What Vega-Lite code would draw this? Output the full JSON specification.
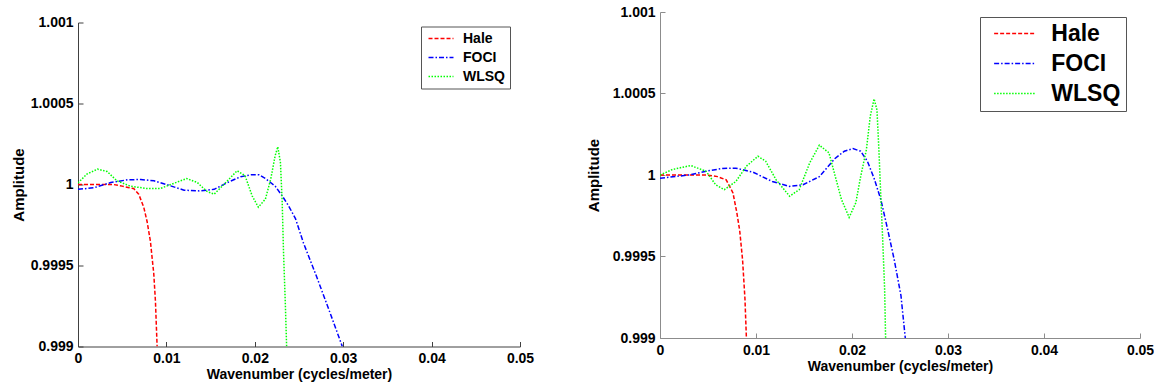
{
  "$schema": "https://vega.github.io/schema/vega-lite/v6.json",
  "background": "white",
  "padding": {"left": 11, "top": 5, "right": 0, "bottom": 0},
  "spacing": 52,
  "config": {
    "view": {"stroke": null},
    "axis": {
      "grid": false,
      "labelFont": "Liberation Sans", "labelFontWeight": "bold", "labelFontSize": 14, "labelColor": "#000000",
      "titleFont": "Liberation Sans", "titleFontWeight": "bold", "titleFontSize": 14, "titleColor": "#000000",
      "tickSize": -5, "labelPadding": 10, "labelFlush": false, "labelOverlap": false
    },
    "legend": {
      "orient": "none", "title": null,
      "labelFont": "Liberation Sans", "labelFontWeight": "bold", "labelColor": "#000000",
      "strokeColor": "#555555", "fillColor": "#ffffff", "cornerRadius": 0
    }
  },
  "resolve": {
    "scale": {"color": "independent", "strokeDash": "independent"},
    "legend": {"color": "independent", "strokeDash": "independent"}
  },
  "datasets": {
    "spacer": [{"s": 0}],
    "left": [
      {"k": 0, "amp": 1.0, "method": "Hale"},
      {"k": 0.002, "amp": 1.0, "method": "Hale"},
      {"k": 0.004, "amp": 1.0, "method": "Hale"},
      {"k": 0.005, "amp": 0.99999, "method": "Hale"},
      {"k": 0.0058, "amp": 0.99998, "method": "Hale"},
      {"k": 0.0063, "amp": 0.999975, "method": "Hale"},
      {"k": 0.00687, "amp": 0.99994, "method": "Hale"},
      {"k": 0.00744, "amp": 0.99986, "method": "Hale"},
      {"k": 0.00782, "amp": 0.99977, "method": "Hale"},
      {"k": 0.00819, "amp": 0.99965, "method": "Hale"},
      {"k": 0.00857, "amp": 0.99945, "method": "Hale"},
      {"k": 0.00876, "amp": 0.99928, "method": "Hale"},
      {"k": 0.00895, "amp": 0.999, "method": "Hale"},

      {"k": 0, "amp": 0.99997, "method": "FOCI"},
      {"k": 0.0018, "amp": 0.99998, "method": "FOCI"},
      {"k": 0.0037, "amp": 1.000012, "method": "FOCI"},
      {"k": 0.0056, "amp": 1.000029, "method": "FOCI"},
      {"k": 0.0071, "amp": 1.000031, "method": "FOCI"},
      {"k": 0.0086, "amp": 1.000023, "method": "FOCI"},
      {"k": 0.0101, "amp": 0.999998, "method": "FOCI"},
      {"k": 0.012, "amp": 0.999965, "method": "FOCI"},
      {"k": 0.0138, "amp": 0.99996, "method": "FOCI"},
      {"k": 0.0154, "amp": 0.99997, "method": "FOCI"},
      {"k": 0.0169, "amp": 1.000012, "method": "FOCI"},
      {"k": 0.0184, "amp": 1.000048, "method": "FOCI"},
      {"k": 0.0196, "amp": 1.00006, "method": "FOCI"},
      {"k": 0.0205, "amp": 1.00006, "method": "FOCI"},
      {"k": 0.0212, "amp": 1.000037, "method": "FOCI"},
      {"k": 0.0223, "amp": 0.99999, "method": "FOCI"},
      {"k": 0.0231, "amp": 0.99993, "method": "FOCI"},
      {"k": 0.0238, "amp": 0.99987, "method": "FOCI"},
      {"k": 0.0246, "amp": 0.99979, "method": "FOCI"},
      {"k": 0.0255, "amp": 0.99964, "method": "FOCI"},
      {"k": 0.027, "amp": 0.99943, "method": "FOCI"},
      {"k": 0.0285, "amp": 0.99921, "method": "FOCI"},
      {"k": 0.0299, "amp": 0.999, "method": "FOCI"},

      {"k": 0, "amp": 1.00001, "method": "WLSQ"},
      {"k": 0.001, "amp": 1.000064, "method": "WLSQ"},
      {"k": 0.0022, "amp": 1.000095, "method": "WLSQ"},
      {"k": 0.0033, "amp": 1.00008, "method": "WLSQ"},
      {"k": 0.0044, "amp": 1.000023, "method": "WLSQ"},
      {"k": 0.0059, "amp": 0.99999, "method": "WLSQ"},
      {"k": 0.0078, "amp": 0.999975, "method": "WLSQ"},
      {"k": 0.0093, "amp": 0.999975, "method": "WLSQ"},
      {"k": 0.0105, "amp": 1.0, "method": "WLSQ"},
      {"k": 0.0123, "amp": 1.000037, "method": "WLSQ"},
      {"k": 0.0135, "amp": 1.000012, "method": "WLSQ"},
      {"k": 0.0146, "amp": 0.999957, "method": "WLSQ"},
      {"k": 0.0154, "amp": 0.99994, "method": "WLSQ"},
      {"k": 0.0165, "amp": 1.0, "method": "WLSQ"},
      {"k": 0.018, "amp": 1.000085, "method": "WLSQ"},
      {"k": 0.0189, "amp": 1.000054, "method": "WLSQ"},
      {"k": 0.0197, "amp": 0.99993, "method": "WLSQ"},
      {"k": 0.0204, "amp": 0.99986, "method": "WLSQ"},
      {"k": 0.0212, "amp": 0.99991, "method": "WLSQ"},
      {"k": 0.0218, "amp": 1.000033, "method": "WLSQ"},
      {"k": 0.0223, "amp": 1.000177, "method": "WLSQ"},
      {"k": 0.0226, "amp": 1.000233, "method": "WLSQ"},
      {"k": 0.0229, "amp": 1.000136, "method": "WLSQ"},
      {"k": 0.0231, "amp": 0.99989, "method": "WLSQ"},
      {"k": 0.02325, "amp": 0.99958, "method": "WLSQ"},
      {"k": 0.02345, "amp": 0.99927, "method": "WLSQ"},
      {"k": 0.0236, "amp": 0.999, "method": "WLSQ"}
    ],
    "right": [
      {"k": 0, "amp": 1.0, "method": "Hale"},
      {"k": 0.002, "amp": 1.0, "method": "Hale"},
      {"k": 0.0048, "amp": 1.0, "method": "Hale"},
      {"k": 0.006, "amp": 0.99999, "method": "Hale"},
      {"k": 0.0069, "amp": 0.99997, "method": "Hale"},
      {"k": 0.0076, "amp": 0.99989, "method": "Hale"},
      {"k": 0.0080, "amp": 0.99977, "method": "Hale"},
      {"k": 0.0083, "amp": 0.99966, "method": "Hale"},
      {"k": 0.0086, "amp": 0.99948, "method": "Hale"},
      {"k": 0.00885, "amp": 0.99924, "method": "Hale"},
      {"k": 0.009, "amp": 0.999, "method": "Hale"},

      {"k": 0, "amp": 0.99998, "method": "FOCI"},
      {"k": 0.003, "amp": 1.0, "method": "FOCI"},
      {"k": 0.0048, "amp": 1.000023, "method": "FOCI"},
      {"k": 0.0065, "amp": 1.00004, "method": "FOCI"},
      {"k": 0.0079, "amp": 1.000042, "method": "FOCI"},
      {"k": 0.0097, "amp": 1.000017, "method": "FOCI"},
      {"k": 0.0117, "amp": 0.99996, "method": "FOCI"},
      {"k": 0.0135, "amp": 0.99993, "method": "FOCI"},
      {"k": 0.0149, "amp": 0.99994, "method": "FOCI"},
      {"k": 0.0166, "amp": 0.99999, "method": "FOCI"},
      {"k": 0.0182, "amp": 1.0001, "method": "FOCI"},
      {"k": 0.0192, "amp": 1.000146, "method": "FOCI"},
      {"k": 0.0201, "amp": 1.000162, "method": "FOCI"},
      {"k": 0.0209, "amp": 1.000146, "method": "FOCI"},
      {"k": 0.0216, "amp": 1.000085, "method": "FOCI"},
      {"k": 0.0223, "amp": 0.99998, "method": "FOCI"},
      {"k": 0.0230, "amp": 0.99985, "method": "FOCI"},
      {"k": 0.0237, "amp": 0.99967, "method": "FOCI"},
      {"k": 0.0244, "amp": 0.99948, "method": "FOCI"},
      {"k": 0.0251, "amp": 0.99926, "method": "FOCI"},
      {"k": 0.02555, "amp": 0.999, "method": "FOCI"},

      {"k": 0, "amp": 1.0, "method": "WLSQ"},
      {"k": 0.0013, "amp": 1.000034, "method": "WLSQ"},
      {"k": 0.0032, "amp": 1.000058, "method": "WLSQ"},
      {"k": 0.0048, "amp": 1.000023, "method": "WLSQ"},
      {"k": 0.0058, "amp": 0.99994, "method": "WLSQ"},
      {"k": 0.0067, "amp": 0.99991, "method": "WLSQ"},
      {"k": 0.0079, "amp": 0.99996, "method": "WLSQ"},
      {"k": 0.009, "amp": 1.000054, "method": "WLSQ"},
      {"k": 0.0102, "amp": 1.000115, "method": "WLSQ"},
      {"k": 0.011, "amp": 1.000085, "method": "WLSQ"},
      {"k": 0.0121, "amp": 0.99997, "method": "WLSQ"},
      {"k": 0.0135, "amp": 0.99987, "method": "WLSQ"},
      {"k": 0.0145, "amp": 0.99991, "method": "WLSQ"},
      {"k": 0.0156, "amp": 1.000075, "method": "WLSQ"},
      {"k": 0.0166, "amp": 1.000183, "method": "WLSQ"},
      {"k": 0.0176, "amp": 1.000136, "method": "WLSQ"},
      {"k": 0.0189, "amp": 0.99985, "method": "WLSQ"},
      {"k": 0.0197, "amp": 0.99974, "method": "WLSQ"},
      {"k": 0.0204, "amp": 0.99983, "method": "WLSQ"},
      {"k": 0.0209, "amp": 0.99999, "method": "WLSQ"},
      {"k": 0.0215, "amp": 1.000156, "method": "WLSQ"},
      {"k": 0.0219, "amp": 1.00036, "method": "WLSQ"},
      {"k": 0.0223, "amp": 1.000467, "method": "WLSQ"},
      {"k": 0.0226, "amp": 1.0004, "method": "WLSQ"},
      {"k": 0.0228, "amp": 1.000156, "method": "WLSQ"},
      {"k": 0.0230, "amp": 0.99987, "method": "WLSQ"},
      {"k": 0.0232, "amp": 0.9996, "method": "WLSQ"},
      {"k": 0.0234, "amp": 0.9993, "method": "WLSQ"},
      {"k": 0.0235, "amp": 0.999, "method": "WLSQ"}
    ]
  },
  "hconcat": [
    {
      "spacing": -2.5,
      "resolve": {
        "scale": {"color": "independent", "strokeDash": "independent"},
        "legend": {"color": "independent", "strokeDash": "independent"}
      },
      "vconcat": [
        {
          "width": 10,
          "height": 1,
          "data": {"name": "spacer"},
          "mark": {"type": "text", "text": ""},
          "encoding": {}
        },
        {
          "width": 442,
          "height": 324,
          "data": {"name": "left"},
          "mark": {"type": "line", "strokeWidth": 1.5, "clip": true},
          "encoding": {
            "x": {"field": "k", "type": "quantitative", "title": "Wavenumber (cycles/meter)",
                  "scale": {"domain": [0, 0.05], "nice": false, "zero": false},
                  "axis": {"values": [0, 0.01, 0.02, 0.03, 0.04, 0.05], "format": "~g", "domainColor": "#404040", "tickColor": "#404040", "titlePadding": 2}},
            "y": {"field": "amp", "type": "quantitative", "title": "Amplitude",
                  "scale": {"domain": [0.999, 1.001], "nice": false, "zero": false},
                  "axis": {"values": [0.999, 0.9995, 1, 1.0005, 1.001], "format": "~g", "domainColor": "#404040", "tickColor": "#404040", "titlePadding": 3.5, "titleFontSize": 15}},
            "color": {"field": "method", "type": "nominal",
                      "scale": {"domain": ["Hale", "FOCI", "WLSQ"], "range": ["#ff0000", "#0000ff", "#00ff00"]},
                      "legend": {"legendX": 343, "legendY": 4, "padding": 5, "symbolType": "M-2,0H2", "symbolOffset": 8, "symbolSize": 156, "symbolStrokeWidth": 1.3, "labelOffset": 15, "rowPadding": 5, "labelFontSize": 14, "labelExpr": "datum.label + '\u00a0'"}},
            "strokeDash": {"field": "method", "type": "nominal",
                      "scale": {"domain": ["Hale", "FOCI", "WLSQ"], "range": [[4, 2], [5, 2, 1.5, 2], [1.5, 1.5]]},
                      "legend": {"legendX": 343, "legendY": 4, "padding": 5, "symbolType": "M-2,0H2", "symbolOffset": 8, "symbolSize": 156, "symbolStrokeWidth": 1.3, "labelOffset": 15, "rowPadding": 5, "labelFontSize": 14, "labelExpr": "datum.label + '\u00a0'"}}
          }
        }
      ]
    },
    {
      "width": 480,
      "height": 326,
      "data": {"name": "right"},
      "mark": {"type": "line", "strokeWidth": 1.5, "clip": true},
      "encoding": {
        "x": {"field": "k", "type": "quantitative", "title": "Wavenumber (cycles/meter)",
              "scale": {"domain": [0, 0.05], "nice": false, "zero": false},
              "axis": {"values": [0, 0.01, 0.02, 0.03, 0.04, 0.05], "format": "~g", "domainColor": "#8c8c8c", "tickColor": "#8c8c8c", "titlePadding": 2}},
        "y": {"field": "amp", "type": "quantitative", "title": "Amplitude",
              "scale": {"domain": [0.999, 1.001], "nice": false, "zero": false},
              "axis": {"values": [0.999, 0.9995, 1, 1.0005, 1.001], "format": "~g", "domainColor": "#8c8c8c", "tickColor": "#8c8c8c", "titlePadding": 11, "titleFontSize": 15}},
        "color": {"field": "method", "type": "nominal",
                  "scale": {"domain": ["Hale", "FOCI", "WLSQ"], "range": ["#ff0000", "#0000ff", "#00ff00"]},
                  "legend": {"legendX": 320, "legendY": 5, "padding": 5, "symbolType": "M-4,0H4", "symbolOffset": 18.6, "symbolSize": 110, "symbolStrokeWidth": 1.5, "labelOffset": 24.7, "rowPadding": 6, "labelFontSize": 23, "labelExpr": "datum.label + '\u00a0'"}},
        "strokeDash": {"field": "method", "type": "nominal",
                  "scale": {"domain": ["Hale", "FOCI", "WLSQ"], "range": [[4, 2], [5, 2, 1.5, 2], [1.5, 1.5]]},
                  "legend": {"legendX": 320, "legendY": 5, "padding": 5, "symbolType": "M-4,0H4", "symbolOffset": 18.6, "symbolSize": 110, "symbolStrokeWidth": 1.5, "labelOffset": 24.7, "rowPadding": 6, "labelFontSize": 23, "labelExpr": "datum.label + '\u00a0'"}}
      }
    }
  ]
}
